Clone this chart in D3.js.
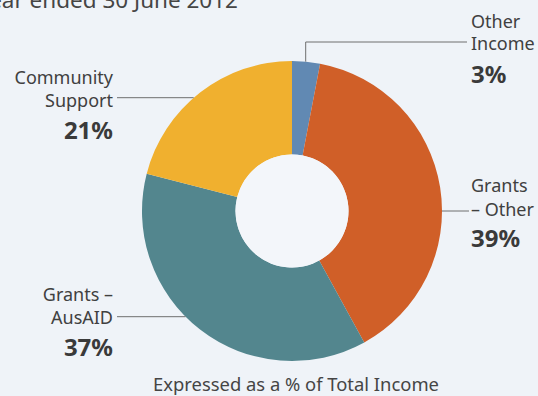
<!DOCTYPE html>
<html>
<head>
<meta charset="utf-8">
<script src="https://cdn.jsdelivr.net/npm/d3@7"></script>
<style>
  html, body { margin: 0; padding: 0; background: #eff3f8; }
  svg { display: block; }
  text { font-family: "Noto Sans", "Open Sans", sans-serif; fill: #404040; }
</style>
</head>
<body>
<svg id="chart" width="538" height="396"></svg>
<script>
// Income sources as a share of total income
const categories = ["Other Income", "Grants – Other", "Grants – AusAID", "Community Support"];
const shares = [3, 39, 37, 21];
const colors = ["#6189b3", "#d05f28", "#53868e", "#f0b02f"];
// Label lines shown next to each slice
const labelLines = [["Other", "Income"], ["Grants", "– Other"], ["Grants –", "AusAID"], ["Community", "Support"]];
const title = "Year ended 30 June 2012";
const footnote = "Expressed as a % of Total Income";

const svg = d3.select("#chart");
const W = 538, H = 396;
const cx = 292, cy = 211, outerR = 150, innerR = 56.5;

svg.append("rect").attr("width", W).attr("height", H).attr("fill", "#eff3f8");

// Heading, running off the top-left corner
svg.append("text")
  .attr("x", 238).attr("y", 8)
  .attr("text-anchor", "end")
  .style("font-size", "22.5px")
  .style("fill", "#454545")
  .text(title);

const data = categories.map((c, i) => ({ name: c, value: shares[i], color: colors[i], lines: labelLines[i] }));

const pie = d3.pie().value(d => d.value).sort(null);
const arc = d3.arc().innerRadius(innerR).outerRadius(outerR);
const arcs = pie(data);

const g = svg.append("g").attr("transform", `translate(${cx},${cy})`);
g.selectAll("path.slice")
  .data(arcs)
  .join("path")
  .attr("class", "slice")
  .attr("d", arc)
  .attr("fill", d => d.data.color);

g.append("circle").attr("r", innerR).attr("fill", "#f3f6fa");

// Leader lines and labels
const lineColor = "#6e6e6e";
const lab = svg.append("g");
const pct = d => d3.format(".0f")(d) + "%";

// point on the outer rim at a given y (left or right side)
function rimX(y, side) {
  const dy = y - cy;
  return cx + side * Math.sqrt(outerR * outerR - dy * dy);
}
function rimY(x) {
  const dx = x - cx;
  return cy - Math.sqrt(outerR * outerR - dx * dx);
}

function labelBlock(d, x, anchor, baselines) {
  const t = lab.append("g");
  d.data.lines.forEach((ln, i) => {
    t.append("text").attr("x", x).attr("y", baselines[i])
      .attr("text-anchor", anchor).style("font-size", "18px").text(ln);
  });
  t.append("text").attr("x", x).attr("y", baselines[2])
    .attr("text-anchor", anchor)
    .style("font-size", "24px").style("font-weight", "bold").style("fill", "#3a3a3a")
    .text(pct(d.data.value));
}

// Other Income: elbow line up from the rim, then right
{
  const d = arcs[0];
  const lx = 305.7, ly = 42;
  lab.append("path")
    .attr("d", `M${lx},${rimY(lx)}V${ly}H467`)
    .attr("fill", "none").attr("stroke", lineColor).attr("stroke-width", 1);
  labelBlock(d, 471, "start", [28, 50, 83]);
}
// Grants – Other
{
  const d = arcs[1];
  lab.append("line")
    .attr("x1", rimX(cy, 1)).attr("y1", cy).attr("x2", 469).attr("y2", cy)
    .attr("stroke", lineColor).attr("stroke-width", 1);
  labelBlock(d, 471, "start", [192, 216, 247]);
}
// Grants – AusAID
{
  const d = arcs[2];
  const ly = 316.7;
  lab.append("line")
    .attr("x1", 117).attr("y1", ly).attr("x2", rimX(ly, -1)).attr("y2", ly)
    .attr("stroke", lineColor).attr("stroke-width", 1);
  labelBlock(d, 113, "end", [301, 324, 356]);
}
// Community Support
{
  const d = arcs[3];
  const ly = 97.7;
  lab.append("line")
    .attr("x1", 117).attr("y1", ly).attr("x2", rimX(ly, -1)).attr("y2", ly)
    .attr("stroke", lineColor).attr("stroke-width", 1);
  labelBlock(d, 113, "end", [84, 107, 139]);
}

svg.append("text")
  .attr("x", 296).attr("y", 391)
  .attr("text-anchor", "middle")
  .style("font-size", "18.4px")
  .style("fill", "#454545")
  .text(footnote);
</script>
</body>
</html>
